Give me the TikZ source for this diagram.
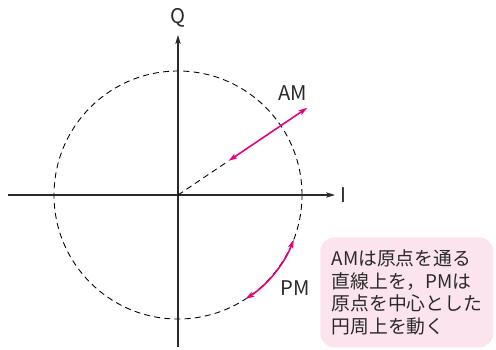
\documentclass[tikz,border=0pt]{standalone}
\usepackage{fontspec}
\setmainfont{Noto Sans CJK JP}
\usetikzlibrary{arrows.meta,positioning}
\definecolor{modmagenta}{HTML}{E6007E}
\definecolor{notepink}{HTML}{FCE4EE}
\definecolor{axisgrey}{HTML}{2A2A2A}

\begin{document}
\begin{tikzpicture}[x=0.02cm,y=0.02cm, every node/.style={font=\fontsize{11.5}{12.8}\selectfont, text=axisgrey},
  axis/.style={line width=0.7pt, axisgrey, -{Stealth[length=5pt,width=3pt,inset=1pt]}},
  modarrow/.style={line width=0.9pt, modmagenta, {Stealth[length=5pt,width=3pt,inset=1pt]}-{Stealth[length=5pt,width=3pt,inset=1pt]}}]
\useasboundingbox (-178,-154) rectangle (318,195);
\coordinate (o) at (0,0);
% circle of constant amplitude
\draw[line width=0.5pt, dash pattern=on 3.4pt off 2.4pt] (o) circle[radius=124];
% I/Q axes
\coordinate (iL) at (-170,0); \coordinate (iR) at (157,0);
\coordinate (qB) at (0,-152); \coordinate (qT) at (0,160);
\draw[axis] (iL) -- (iR);
\draw[axis] (qB) -- (qT);
\node (ilab) at (165,0) {I};
\node (qlab) at (0,177) {Q};
% AM: along the line through the origin
\coordinate (am1) at (34:61); \coordinate (am2) at (34:156);
\draw[line width=0.5pt, dash pattern=on 3.4pt off 2.4pt] (o) -- (am1);
\draw[modarrow] (am1) -- (am2);
\node (amlab) at (115,102) {AM};
% PM: along the circle
\coordinate (pm1) at (-21:124);
\draw[modarrow] (pm1) arc[start angle=-21, end angle=-57, radius=124];
\node (pmlab) at (117,-93) {PM};
% note
\node[fill=notepink, rounded corners=8pt, anchor=north west, align=left,
  minimum width=3.46cm, minimum height=2.2cm, inner sep=0pt,
  font=\fontsize{10.7}{12.9}\selectfont] (note) at (142,-42)
  {AMは原点を通る\\直線上を，PMは\\原点を中心とした\\円周上を動く};
\end{tikzpicture}
\end{document}
